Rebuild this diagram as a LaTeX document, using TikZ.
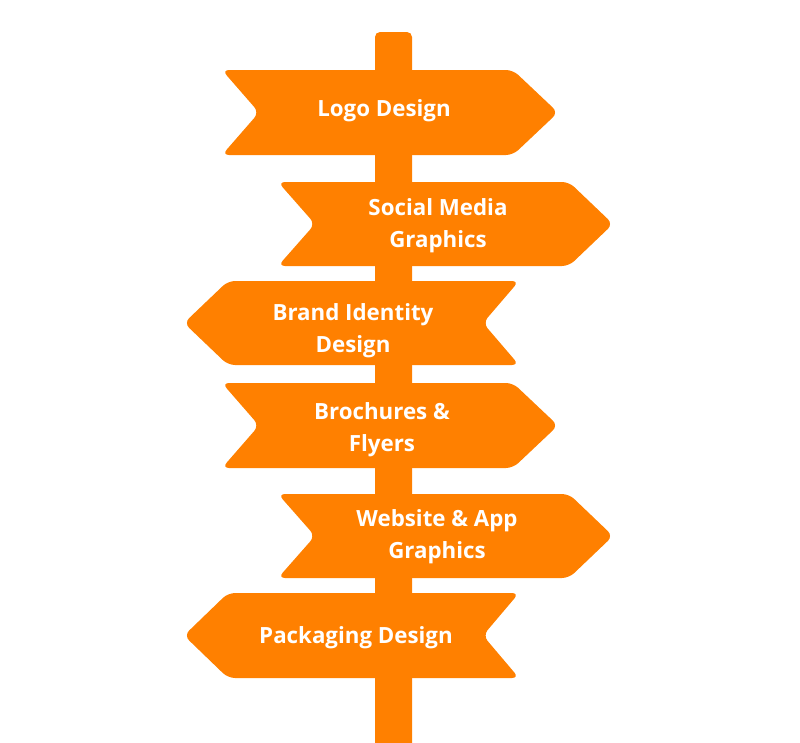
\documentclass[tikz,border=0pt]{standalone}
\usepackage{fontspec}
\setmainfont{Open Sans}
\definecolor{signorange}{HTML}{FF8000}
\begin{document}
\begin{tikzpicture}[x=1pt,y=-1pt,
  signshape/.style={fill=signorange, draw=none, rounded corners=7pt},
  signtext/.style={text=white, font=\bfseries\fontsize{22.3}{32}\selectfont, align=center, anchor=base, inner sep=0pt}]
\useasboundingbox (0,0) rectangle (800,742);
% pole
\fill[signorange, rounded corners=5pt] (375,770) -- (375,32) -- (412,32) -- (412,770) -- cycle;
% right-pointing signs
\fill[signshape] (222,70) -- (513,70) -- (558,112.5) -- (513,155) -- (222,155) -- (259,112.5) -- cycle;
\fill[signshape] (278,182) -- (569,182) -- (613,224) -- (569,266) -- (278,266) -- (315,224) -- cycle;
\fill[signshape] (222,383) -- (513,383) -- (558,425.5) -- (513,468) -- (222,468) -- (259,425.5) -- cycle;
\fill[signshape] (278,494) -- (569,494) -- (613,536) -- (569,578) -- (278,578) -- (315,536) -- cycle;
% left-pointing signs
\fill[signshape] (519,281) -- (228,281) -- (184,323) -- (228,365) -- (519,365) -- (483,323) -- cycle;
\fill[signshape] (519,593) -- (228,593) -- (184,635.5) -- (228,678) -- (519,678) -- (483,635.5) -- cycle;
% texts (base anchor = baseline of the last line)
\node[signtext] (t1) at (384,116) {Logo Design};
\node[signtext] (t2) at (438,247) {Social Media\\Graphics};
\node[signtext] (t3) at (353,352) {Brand Identity\\Design};
\node[signtext] (t4) at (382,451) {Brochures \&\\Flyers};
\node[signtext] (t5) at (437,558) {Website \& App\\Graphics};
\node[signtext] (t6) at (356,643) {Packaging Design};
\end{tikzpicture}
\end{document}
